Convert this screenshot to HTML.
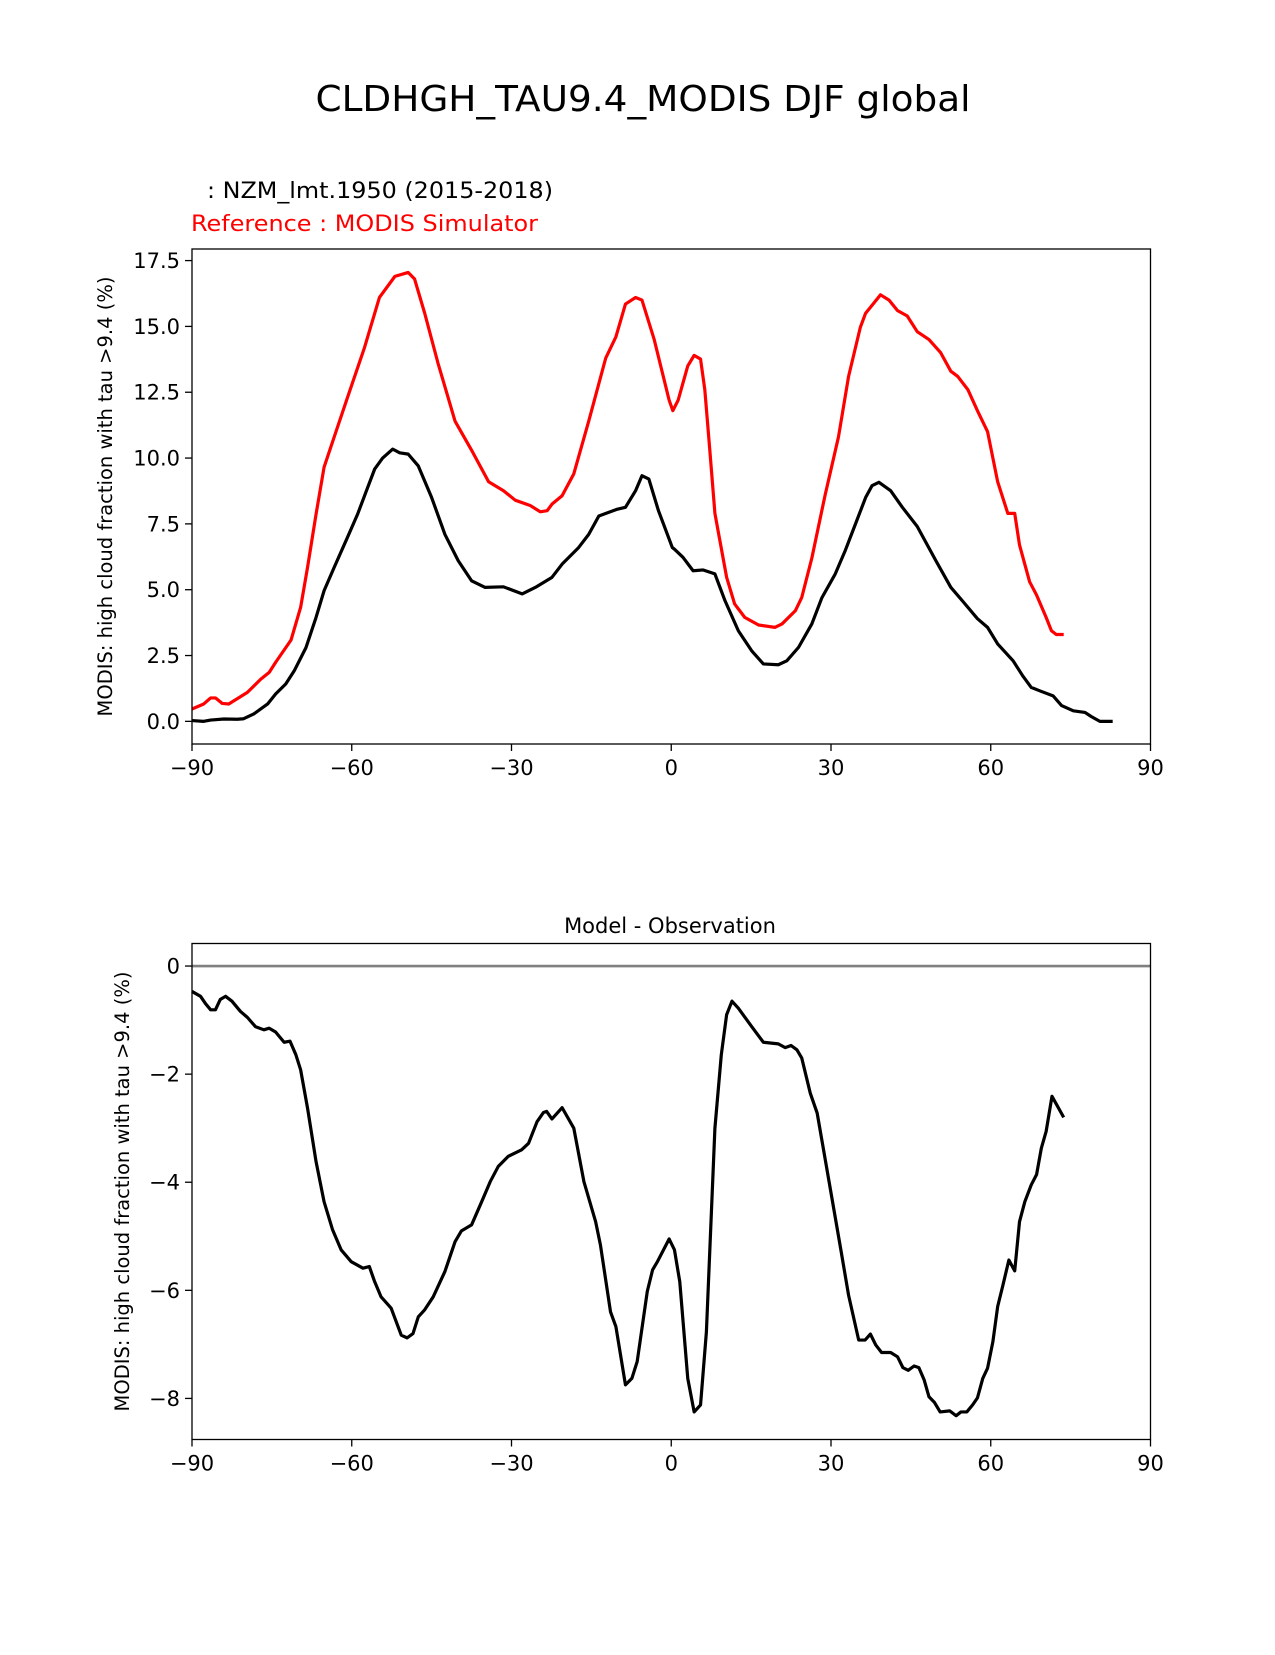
<!DOCTYPE html>
<html><head><meta charset="utf-8"><style>
html,body{margin:0;padding:0;background:#fff;}
svg text{font-family:"DejaVu Sans","Liberation Sans",sans-serif;}
</style></head><body>
<svg id="fig" width="1275" height="1650" viewBox="0 0 1275 1650" xmlns="http://www.w3.org/2000/svg">
<rect width="1275" height="1650" fill="#fff"/>
<text x="643" y="111" font-size="36" text-anchor="middle" textLength="655" lengthAdjust="spacingAndGlyphs">CLDHGH_TAU9.4_MODIS DJF global</text>
<text x="207" y="198" font-size="22" textLength="346" lengthAdjust="spacingAndGlyphs">: NZM_lmt.1950 (2015-2018)</text>
<text x="191" y="231" font-size="22" fill="#ff0000" textLength="347" lengthAdjust="spacingAndGlyphs">Reference : MODIS Simulator</text>
<text x="670" y="933" font-size="21" text-anchor="middle">Model - Observation</text>
<g id="topPanel"></g>
<g id="botPanel"></g>
</svg>
<script>
// ---- data (latitude, value) ----
const modelLat = [-90,-87.8,-86.5,-84,-81.5,-80.3,-78.4,-75.8,-74.3,-72.4,-70.8,-68.6,-66.7,-65.2,-63.3,-60.8,-58.9,-57,-55.7,-54.2,-52.3,-51,-49.4,-47.5,-45,-42.5,-40,-37.5,-35,-31.5,-28,-25.5,-22.4,-20.5,-17.4,-15.5,-13.6,-11.7,-10.1,-8.6,-6.7,-5.5,-4.2,-2.4,0.2,0.6,2.2,4.1,6.0,8.2,10.1,12.6,15.1,17.3,20.1,21.7,23.9,26.4,28.3,30.8,32.7,34.6,36.5,37.7,39,41.2,43.4,46.2,49.7,52.5,55,57.5,59.4,61.3,64.2,66,67.6,69.2,71.7,73.3,75.5,77.7,78.9,80.5,82.9];
const modelVal = [0.03,0,0.05,0.09,0.08,0.1,0.28,0.66,1.04,1.42,1.92,2.8,3.95,4.96,5.85,6.99,7.87,8.89,9.58,10.0,10.34,10.2,10.15,9.7,8.5,7.1,6.1,5.34,5.09,5.11,4.84,5.09,5.47,5.97,6.6,7.1,7.8,7.94,8.06,8.13,8.76,9.33,9.2,8.0,6.6,6.54,6.23,5.72,5.75,5.6,4.58,3.44,2.68,2.18,2.15,2.3,2.81,3.7,4.7,5.6,6.5,7.5,8.5,8.95,9.08,8.76,8.13,7.4,6.1,5.09,4.5,3.9,3.57,2.94,2.3,1.73,1.29,1.16,0.97,0.6,0.4,0.34,0.18,0,0];
const refLat = [-90,-87.8,-86.5,-85.6,-84.3,-83.1,-79.6,-77.1,-75.5,-74.3,-71.4,-69.6,-68.3,-66.7,-65.2,-63.3,-60.8,-57.6,-54.8,-51.9,-49.4,-48.2,-46.3,-43.8,-40.6,-37.5,-34.3,-31.5,-29.3,-26.5,-24.6,-23.3,-22.4,-20.5,-18.3,-15.5,-12.3,-10.4,-8.6,-6.7,-5.5,-3.2,-0.4,0.3,1.3,3.1,4.3,5.5,6.3,7.2,8.2,9.1,10.4,11.9,13.8,16.4,19.5,20.8,23.3,24.5,26.4,28.9,31.4,33.3,35.5,36.5,37.7,39.3,40.9,42.5,44.3,46.2,48.4,50.6,52.5,53.8,55.7,57.5,59.4,61.3,63.2,64.5,65.4,67.3,68.6,70.4,71.4,72.3,73.7];
const refVal = [0.47,0.66,0.89,0.89,0.68,0.66,1.1,1.6,1.86,2.24,3.09,4.33,5.85,7.87,9.65,10.8,12.3,14.2,16.1,16.9,17.05,16.8,15.5,13.6,11.4,10.3,9.1,8.76,8.4,8.2,7.96,8.0,8.25,8.57,9.4,11.4,13.8,14.6,15.85,16.1,16.0,14.5,12.2,11.8,12.2,13.5,13.9,13.76,12.6,10.4,7.9,6.9,5.47,4.46,3.95,3.66,3.57,3.7,4.2,4.7,6.2,8.6,10.8,13.1,14.96,15.5,15.8,16.2,16.0,15.6,15.4,14.8,14.5,14.0,13.3,13.1,12.6,11.8,11.0,9.1,7.9,7.9,6.7,5.3,4.8,3.95,3.44,3.3,3.3];
const diffLat = [-90,-88.4,-87.5,-86.5,-85.6,-84.7,-83.7,-82.5,-80.9,-79.6,-78.1,-76.5,-75.5,-74.3,-72.7,-71.6,-70.5,-69.6,-68.3,-66.7,-65.2,-63.6,-62,-60.1,-57.9,-56.7,-55.7,-54.5,-52.6,-50.7,-49.6,-48.5,-47.5,-46.3,-44.7,-42.5,-40.6,-39.4,-37.5,-35.6,-34,-32.5,-30.6,-28.1,-26.8,-25.2,-24,-23.4,-22.4,-20.5,-18.3,-16.4,-14.2,-13.3,-11.4,-10.4,-8.6,-7.4,-6.4,-4.5,-3.5,-2.6,-0.4,0.6,1.6,3.1,4.3,5.5,6.6,8.2,9.4,10.4,11.4,12.6,15.1,17.3,20.1,21.4,22.5,23.6,24.5,26.1,27.4,29.2,30.5,31.8,33.3,35.2,36.4,37.4,38.4,39.5,41.2,42.5,43.5,44.5,45.6,46.5,47.5,48.4,49.4,50.5,52.3,53.5,54.4,55.5,56.6,57.5,58.5,59.4,60.4,61.3,62.3,63.4,64.5,65.4,66.4,67.6,68.6,69.5,70.4,71.5,73.7];
const diffVal = [-0.47,-0.56,-0.69,-0.81,-0.81,-0.62,-0.56,-0.65,-0.84,-0.95,-1.12,-1.18,-1.15,-1.22,-1.41,-1.39,-1.64,-1.92,-2.63,-3.62,-4.36,-4.88,-5.25,-5.47,-5.59,-5.56,-5.84,-6.12,-6.33,-6.83,-6.88,-6.8,-6.49,-6.36,-6.12,-5.65,-5.1,-4.9,-4.79,-4.36,-3.99,-3.71,-3.52,-3.4,-3.28,-2.88,-2.71,-2.69,-2.83,-2.62,-3.0,-3.99,-4.73,-5.16,-6.4,-6.67,-7.75,-7.63,-7.32,-6.02,-5.62,-5.47,-5.05,-5.25,-5.84,-7.63,-8.25,-8.12,-6.77,-3.0,-1.64,-0.9,-0.65,-0.78,-1.12,-1.41,-1.44,-1.51,-1.47,-1.55,-1.7,-2.35,-2.72,-3.74,-4.48,-5.22,-6.09,-6.92,-6.92,-6.81,-7.01,-7.15,-7.15,-7.23,-7.43,-7.48,-7.4,-7.43,-7.66,-7.97,-8.07,-8.25,-8.23,-8.32,-8.25,-8.25,-8.12,-7.99,-7.63,-7.44,-6.95,-6.3,-5.9,-5.44,-5.64,-4.73,-4.36,-4.05,-3.86,-3.37,-3.06,-2.41,-2.8];
const xTicks = [-90,-60,-30,0,30,60,90];
const topYTicks = [0,2.5,5,7.5,10,12.5,15,17.5];
const topYLabels = ["0.0","2.5","5.0","7.5","10.0","12.5","15.0","17.5"];
const botYTicks = [0,-2,-4,-6,-8];
const botYLabels = ["0","\u22122","\u22124","\u22126","\u22128"];

const NS = "http://www.w3.org/2000/svg";
function mk(parent, tag, attrs){ const e=document.createElementNS(NS,tag); for(const k in attrs) e.setAttribute(k,attrs[k]); parent.appendChild(e); return e; }
const L=192, R=1150.5;
function xs(v){ return L+(v+90)/180*(R-L); }
function fmtX(v){ return v<0 ? "\u2212"+Math.abs(v) : String(v); }
function pathD(lat,val,ys){ return lat.map((x,i)=>(i?"L":"M")+xs(x).toFixed(2)+" "+ys(val[i]).toFixed(2)).join(" "); }

function panel(g, pTop, pBottom, ymin, ymax, yt, yl, labelX){
  const ys = v => pBottom-(v-ymin)/(ymax-ymin)*(pBottom-pTop);
  return {ys, draw(){
    xTicks.forEach(t=>{
      const tk=mk(g,"line",{x1:xs(t),x2:xs(t),y1:pBottom,y2:pBottom+7,stroke:"#000","stroke-width":1.3});
      
      
      const tl=mk(g,"text",{x:xs(t),y:pBottom+31,"font-size":21,"text-anchor":"middle"});
      tl.textContent=fmtX(t);
      
      
    });
    yt.forEach((t,i)=>{
      const tk=mk(g,"line",{x1:L-7,x2:L,y1:ys(t),y2:ys(t),stroke:"#000","stroke-width":1.3});
      
      
      const tl=mk(g,"text",{x:L-12,y:ys(t)+7.5,"font-size":21,"text-anchor":"end"});
      tl.textContent=yl[i];
      
      
    });
    const cy=(pTop+pBottom)/2;
    const lab=mk(g,"text",{x:labelX,y:cy,"font-size":19.5,"text-anchor":"middle",transform:"rotate(-90 "+labelX+" "+cy+")"});
    lab.textContent="MODIS: high cloud fraction with tau >9.4 (%)";
    
    
  }, frame(){
    const f=mk(g,"rect",{x:L,y:pTop,width:R-L,height:pBottom-pTop,fill:"none",stroke:"#000","stroke-width":1.3});
    
    
  }};
}

const topG=document.getElementById("topPanel");
const p1=panel(topG,249,744,-0.86,17.94,topYTicks,topYLabels,112);
p1.draw();
const redLine=mk(topG,"path",{d:pathD(refLat,refVal,p1.ys),fill:"none",stroke:"#ff0000","stroke-width":3.2,"stroke-linejoin":"round"});


const blackLine=mk(topG,"path",{d:pathD(modelLat,modelVal,p1.ys),fill:"none",stroke:"#000","stroke-width":3.2,"stroke-linejoin":"round"});


p1.frame();

const botG=document.getElementById("botPanel");
const p2=panel(botG,943.5,1439.5,-8.76,0.417,botYTicks,botYLabels,129);
p2.draw();
const zl=mk(botG,"line",{x1:L,x2:R,y1:p2.ys(0),y2:p2.ys(0),stroke:"#808080","stroke-width":2.6});


const diffLine=mk(botG,"path",{d:pathD(diffLat,diffVal,p2.ys),fill:"none",stroke:"#000","stroke-width":3.2,"stroke-linejoin":"round"});


p2.frame();
</script>
</body></html>
